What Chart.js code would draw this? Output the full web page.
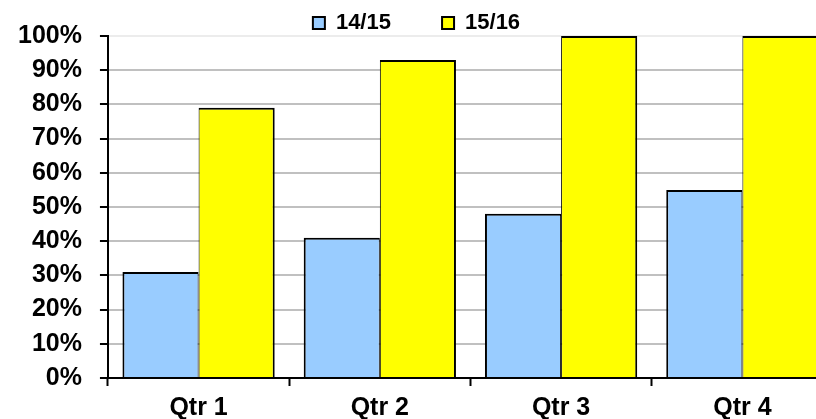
<!DOCTYPE html>
<html>
<head>
<meta charset="utf-8">
<script src="https://cdn.jsdelivr.net/npm/chart.js@4/dist/chart.umd.min.js"></script>
<style>
  html, body { margin: 0; padding: 0; background: #fff; overflow: hidden; }
  #wrap { width: 816px; height: 419px; overflow: hidden; position: relative; }
  canvas { display: block; }
</style>
</head>
<body>
<div id="wrap"><canvas id="c" width="836" height="419"></canvas></div>
<script>
// Quarterly completion rates by year
const quarters = ['Qtr 1', 'Qtr 2', 'Qtr 3', 'Qtr 4'];
const series1415 = [31, 41, 48, 55];
const series1516 = [79, 93, 100, 100];
const seriesNames = ['14/15', '15/16'];

const FONT = "'Liberation Sans', Arial, Helvetica, sans-serif";
// wide gap after the first legend entry
const LEGEND_GAP = '\u2003\u2003 ';

new Chart(document.getElementById('c'), {
  type: 'bar',
  data: {
    labels: quarters,
    datasets: [
      {
        label: seriesNames[0],
        data: series1415,
        backgroundColor: '#99CCFF',
        borderColor: '#000000',
        borderWidth: { top: 2, left: 2, right: 1, bottom: 0 }
      },
      {
        label: seriesNames[1],
        data: series1516,
        backgroundColor: '#FFFF00',
        borderColor: '#000000',
        borderWidth: { top: 2, left: 1, right: 2, bottom: 0 }
      }
    ]
  },
  options: {
    responsive: false,
    animation: false,
    devicePixelRatio: 1,
    layout: { padding: { left: 0, right: 3, top: 11, bottom: -11 } },
    datasets: {
      bar: { barPercentage: 1.0, categoryPercentage: 0.84 }
    },
    plugins: {
      tooltip: { enabled: false },
      legend: {
        position: 'top',
        maxHeight: 25,
        labels: {
          boxWidth: 12,
          boxHeight: 12,
          padding: 1,
          color: '#000',
          font: { family: FONT, size: 22, weight: 'bold' },
          generateLabels: (chart) => {
            const items = Chart.defaults.plugins.legend.labels.generateLabels(chart);
            items.forEach((it, i) => {
              it.lineWidth = 2;
              if (i === 0) it.text = it.text + LEGEND_GAP;
            });
            return items;
          }
        }
      }
    },
    scales: {
      x: {
        grid: {
          offset: true,
          drawOnChartArea: false,
          drawTicks: true,
          tickLength: 8,
          tickColor: '#000',
          tickWidth: 2
        },
        border: { display: true, color: '#000', width: 2 },
        ticks: {
          color: '#000',
          padding: 7,
          font: { family: FONT, size: 25, weight: 'bold' }
        }
      },
      y: {
        min: 0,
        max: 100,
        grid: {
          color: (ctx) => ctx.tick && ctx.tick.value === 100 ? '#ececec' : '#c0c0c0',
          lineWidth: 2,
          tickLength: 8,
          tickColor: '#000',
          tickWidth: 2
        },
        border: { display: true, color: '#000', width: 2 },
        ticks: {
          stepSize: 10,
          color: '#000',
          padding: 18,
          callback: (v) => v + '%',
          font: { family: FONT, size: 25, weight: 'bold' }
        }
      }
    }
  }
});
</script>
</body>
</html>
